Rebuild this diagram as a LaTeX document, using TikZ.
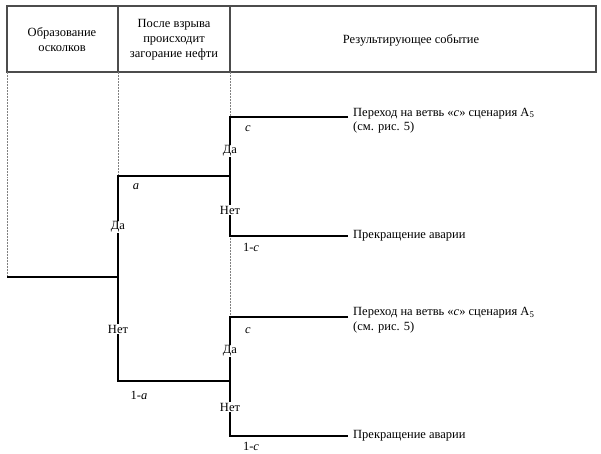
\documentclass[tikz,border=0pt]{standalone}
\usepackage{fontspec}
\setmainfont{Liberation Serif}
\begin{document}
\begin{tikzpicture}[x=1pt,y=-1pt,
  frame/.style={draw=black!70, line width=1.1pt},
  guide/.style={draw=black!50, densely dotted, line width=0.5pt},
  branch/.style={draw=black, line width=1.8pt, line join=miter},
  lbl/.style={fill=white, inner sep=1pt, font=\fontsize{12.5}{14}\selectfont},
  prob/.style={inner sep=1pt, font=\fontsize{12.5}{14}\selectfont},
  hdr/.style={align=center, inner sep=0pt, font=\fontsize{12.5}{15}\selectfont},
  outc/.style={align=left, anchor=west, inner sep=0pt, font=\fontsize{12.5}{14.5}\selectfont}]
\useasboundingbox (0,0) rectangle (601,454);
\fill[white] (0,0) rectangle (601,454);
% header
\draw[frame] (7,6) rectangle (596,72);
\draw[frame] (118,6) -- (118,72);
\draw[frame] (230,6) -- (230,72);
\node[hdr] (h1) at (62,40) {Образование\\осколков};
\node[hdr] (h2) at (174,40) {После взрыва\\происходит\\загорание нефти};
\node[hdr] (h3) at (411,40) {Результирующее событие};
% guides
\draw[guide] (7,72) -- (7,277);
\draw[guide] (118,72) -- (118,176);
\draw[guide] (230,72) -- (230,117);
\draw[guide] (230,236) -- (230,317);
% coordinates
\coordinate (root) at (7,277);
\coordinate (j1) at (118,277);
\coordinate (a1) at (118,176);
\coordinate (b1) at (118,381);
\coordinate (ja) at (230,176);
\coordinate (jb) at (230,381);
\coordinate (ua) at (230,117); \coordinate (uae) at (348,117);
\coordinate (la) at (230,236); \coordinate (lae) at (348,236);
\coordinate (ub) at (230,317); \coordinate (ube) at (348,317);
\coordinate (lb) at (230,436); \coordinate (lbe) at (348,436);
% branches
\draw[branch] (root) -- (j1);
\draw[branch] (ja) -- (a1) -- (b1) -- (jb);
\draw[branch] (uae) -- (ua) -- (la) -- (lae);
\draw[branch] (ube) -- (ub) -- (lb) -- (lbe);
% yes/no labels
\node[lbl] (y1) at (118,227) {Да};
\node[lbl] (n1) at (118,329) {Нет};
\node[lbl] (y2) at (230,151) {Да};
\node[lbl] (n2) at (230,210) {Нет};
\node[lbl] (y3) at (230,351) {Да};
\node[lbl] (n3) at (230,407) {Нет};
% probabilities
\node[prob] (pa) at (136,187) {\textit{a}};
\node[prob] (pna) at (139,395) {1-\textit{a}};
\node[prob] (pc1) at (248,129) {\textit{c}};
\node[prob] (pnc1) at (251,247) {1-\textit{c}};
\node[prob] (pc2) at (248,331) {\textit{c}};
\node[prob] (pnc2) at (251,446) {1-\textit{c}};
% outcomes
\node[outc] (o1) at (353,120.5) {Переход на ветвь «\textit{c}» сценария A\textsubscript{5}\\(см. рис. 5)};
\node[outc] (o2) at (353,236) {Прекращение аварии};
\node[outc] (o3) at (353,320) {Переход на ветвь «\textit{c}» сценария A\textsubscript{5}\\(см. рис. 5)};
\node[outc] (o4) at (353,436) {Прекращение аварии};
\end{tikzpicture}
\end{document}
